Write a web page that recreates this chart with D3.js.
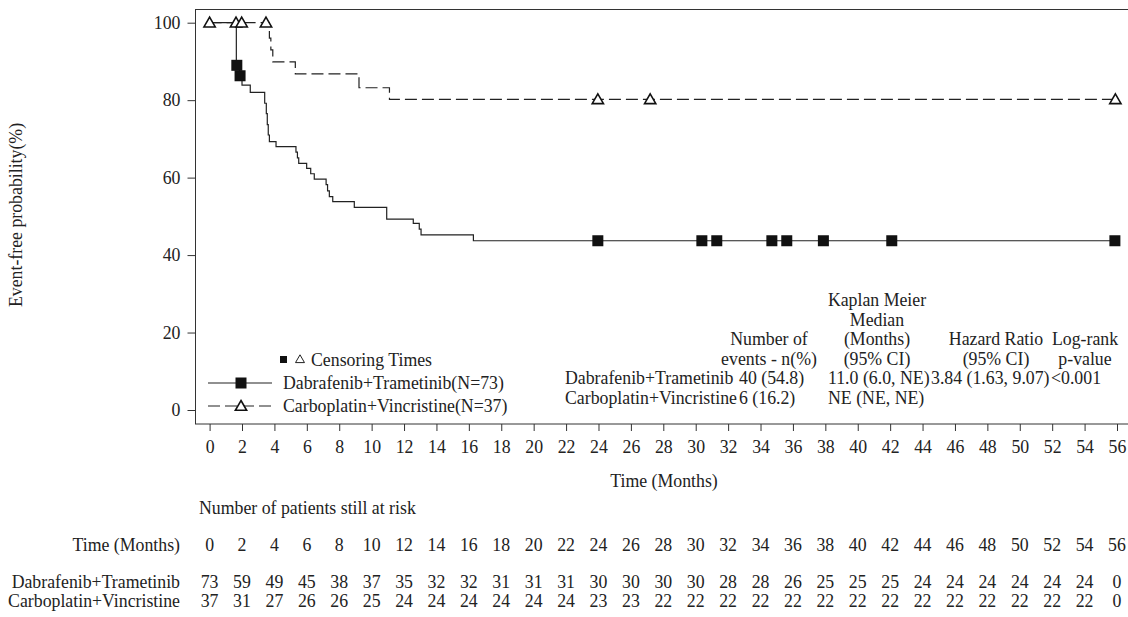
<!DOCTYPE html>
<head>
  <meta charset="utf-8">
  <script src="https://d3js.org/d3.v7.min.js"></script>
  <style>
    body { margin: 0; background: #fff; }
    text { font-family: "Liberation Serif", "Times New Roman", serif; font-size: 17.8px; fill: #222; }
    .axis path, .axis line { stroke: #333; }
  </style>
</head>
<body>
  <div id="graph"></div>
  <script>
    // tick labels
    var timeTicks = [0, 2, 4, 6, 8, 10, 12, 14, 16, 18, 20, 22, 24, 26, 28, 30, 32, 34, 36, 38, 40, 42, 44, 46, 48, 50, 52, 54, 56];
    var probTicks = [0, 20, 40, 60, 80, 100];

    // KM steps [month, %]
    var dtSteps = [[0, 100], [1.65, 89.0], [1.85, 86.3], [2.0, 83.9], [2.51, 82.0], [3.40, 79.2], [3.50, 76.5],
      [3.56, 73.7], [3.62, 71.0], [3.69, 69.3], [4.10, 68.0], [5.33, 66.6], [5.42, 65.1], [5.50, 63.7],
      [5.99, 62.4], [6.24, 61.0], [6.46, 59.6], [7.19, 58.2], [7.28, 56.6], [7.39, 55.1], [7.60, 53.8],
      [8.93, 52.3], [10.93, 49.3], [12.57, 48.2], [12.94, 46.7], [13.05, 45.2], [16.28, 43.7], [55.9, 43.7]];
    var cvSteps = [[0, 100], [3.69, 96.0], [3.78, 93.0], [3.90, 89.9], [5.29, 86.8], [9.22, 83.2], [11.10, 80.2], [55.9, 80.2]];

    // censoring times
    var dtCensor = [[1.68, 89.0], [1.88, 86.3], [23.96, 43.7], [30.38, 43.7], [31.30, 43.7], [34.70, 43.7],
      [35.62, 43.7], [37.88, 43.7], [42.10, 43.7], [55.87, 43.7]];
    var cvCensor = [[0, 100], [1.63, 100], [1.98, 100], [3.48, 100], [23.96, 80.2], [27.19, 80.2], [55.9, 80.2]];

    // patients at risk
    var groups = ["Dabrafenib+Trametinib", "Carboplatin+Vincristine"];
    var riskDT = [73, 59, 49, 45, 38, 37, 35, 32, 32, 31, 31, 31, 30, 30, 30, 30, 28, 28, 26, 25, 25, 25, 24, 24, 24, 24, 24, 24, 0];
    var riskCV = [37, 31, 27, 26, 26, 25, 24, 24, 24, 24, 24, 24, 23, 23, 22, 22, 22, 22, 22, 22, 22, 22, 22, 22, 22, 22, 22, 22, 0];

    // summary table
    var statHeaders = [["Number of", "events - n(%)"], ["Kaplan Meier", "Median", "(Months)", "(95% CI)"], ["Hazard Ratio", "(95% CI)"], ["Log-rank", "p-value"]];
    var statDT = ["40 (54.8)", "11.0 (6.0, NE)", "3.84 (1.63, 9.07)", "<0.001"];
    var statCV = ["6 (16.2)", "NE (NE, NE)", "", ""];

    var width = 1128, height = 617;
    var svg = d3.select("#graph").append("svg")
      .attr("width", width)
      .attr("height", height);

    var x = d3.scaleLinear().domain([0, 56]).range([209.6, 1117]);
    var y = d3.scaleLinear().domain([0, 100]).range([410, 22.7]);

    // frame
    svg.append("rect")
      .attr("x", 195.5).attr("y", 9.5)
      .attr("width", 960).attr("height", 414.5)
      .attr("fill", "none").attr("stroke", "#333");

    var xAxis = d3.axisBottom(x).tickValues(timeTicks).tickSize(7).tickPadding(9);
    var gx = svg.append("g").attr("class", "axis")
      .attr("transform", "translate(0,424)")
      .call(xAxis);
    gx.select(".domain").remove();
    gx.attr("font-family", null).attr("font-size", null);
    gx.selectAll("text").attr("fill", "#222");

    var yAxis = d3.axisLeft(y).tickValues(probTicks).tickSize(8).tickPadding(7);
    var gy = svg.append("g").attr("class", "axis")
      .attr("transform", "translate(195.5,0)")
      .call(yAxis);
    gy.select(".domain").remove();
    gy.attr("font-family", null).attr("font-size", null);
    gy.selectAll("text").attr("fill", "#222");

    svg.append("text")
      .attr("transform", "translate(22,215) rotate(-90)")
      .attr("text-anchor", "middle")
      .text("Event-free probability(%)");

    svg.append("text")
      .attr("x", 664).attr("y", 487)
      .attr("text-anchor", "middle")
      .text("Time (Months)");

    // curves
    var line = d3.line()
      .x(d => x(d[0]))
      .y(d => y(d[1]))
      .curve(d3.curveStepAfter);

    svg.append("path").datum(dtSteps)
      .attr("d", line)
      .attr("fill", "none").attr("stroke", "#222").attr("stroke-width", 1.2);

    svg.append("path").datum(cvSteps)
      .attr("d", line)
      .attr("fill", "none").attr("stroke", "#222").attr("stroke-width", 1.2)
      .attr("stroke-dasharray", "12,5");

    var tri = d3.symbol().type(d3.symbolTriangle).size(55);

    svg.selectAll(".sq").data(dtCensor).enter()
      .append("rect")
      .attr("class", "sq")
      .attr("x", d => x(d[0]) - 5.5)
      .attr("y", d => y(d[1]) - 5.5)
      .attr("width", 11).attr("height", 11)
      .attr("fill", "#111");

    svg.selectAll(".tri").data(cvCensor).enter()
      .append("path")
      .attr("class", "tri")
      .attr("d", tri)
      .attr("transform", d => "translate(" + x(d[0]) + "," + (y(d[1]) + 1) + ")")
      .attr("fill", "#fff").attr("stroke", "#111").attr("stroke-width", 1.6);

    // legend
    var leg = svg.append("g");
    leg.append("rect").attr("x", 280).attr("y", 356).attr("width", 7).attr("height", 7).attr("fill", "#111");
    leg.append("path").attr("d", d3.symbol().type(d3.symbolTriangle).size(35))
      .attr("transform", "translate(300,360)")
      .attr("fill", "none").attr("stroke", "#222").attr("stroke-width", 1);
    leg.append("text").attr("x", 311).attr("y", 360).attr("dy", "0.35em").text("Censoring Times");

    leg.append("line").attr("x1", 208).attr("x2", 272).attr("y1", 383).attr("y2", 383)
      .attr("stroke", "#222").attr("stroke-width", 1.2);
    leg.append("rect").attr("x", 235.5).attr("y", 377.5).attr("width", 11).attr("height", 11).attr("fill", "#111");
    leg.append("text").attr("x", 283).attr("y", 383).attr("dy", "0.35em").text(groups[0] + "(N=73)");

    leg.append("line").attr("x1", 208).attr("x2", 272).attr("y1", 406).attr("y2", 406)
      .attr("stroke", "#222").attr("stroke-width", 1.2).attr("stroke-dasharray", "12,5");
    leg.append("path").attr("d", tri)
      .attr("transform", "translate(241,407)")
      .attr("fill", "#fff").attr("stroke", "#111").attr("stroke-width", 1.6);
    leg.append("text").attr("x", 283).attr("y", 406).attr("dy", "0.35em").text(groups[1] + "(N=37)");

    // summary statistics table
    var colCenter = [769, 877, 996, 1085];
    var colLeft = [739, 828, 931, 1051];
    var rowY = [300, 319.5, 339, 358.5, 378, 397.5];
    statHeaders.forEach(function(lines, i) {
      var start = 4 - lines.length;
      lines.forEach(function(s, j) {
        svg.append("text")
          .attr("x", colCenter[i]).attr("y", rowY[start + j]).attr("dy", "0.35em")
          .attr("text-anchor", "middle").text(s);
      });
    });
    [statDT, statCV].forEach(function(row, r) {
      svg.append("text").attr("x", 565).attr("y", rowY[4 + r]).attr("dy", "0.35em").text(groups[r]);
      row.forEach(function(s, i) {
        svg.append("text").attr("x", colLeft[i]).attr("y", rowY[4 + r]).attr("dy", "0.35em").text(s);
      });
    });

    // patients at risk table
    svg.append("text").attr("x", 199).attr("y", 508).attr("dy", "0.35em").text("Number of patients still at risk");
    svg.append("text").attr("x", 180).attr("y", 545).attr("dy", "0.35em").attr("text-anchor", "end").text("Time (Months)");
    svg.selectAll(".rt").data(timeTicks).enter()
      .append("text").attr("class", "rt")
      .attr("x", d => x(d)).attr("y", 545).attr("dy", "0.35em")
      .attr("text-anchor", "middle").text(d => d);

    [riskDT, riskCV].forEach(function(vals, r) {
      var ry = 582 + r * 19;
      svg.append("text").attr("x", 180).attr("y", ry).attr("dy", "0.35em").attr("text-anchor", "end").text(groups[r]);
      svg.selectAll(".r" + r).data(vals).enter()
        .append("text").attr("class", "r" + r)
        .attr("x", (d, i) => x(timeTicks[i])).attr("y", ry).attr("dy", "0.35em")
        .attr("text-anchor", "middle").text(d => d);
    });
  </script>
</body>
